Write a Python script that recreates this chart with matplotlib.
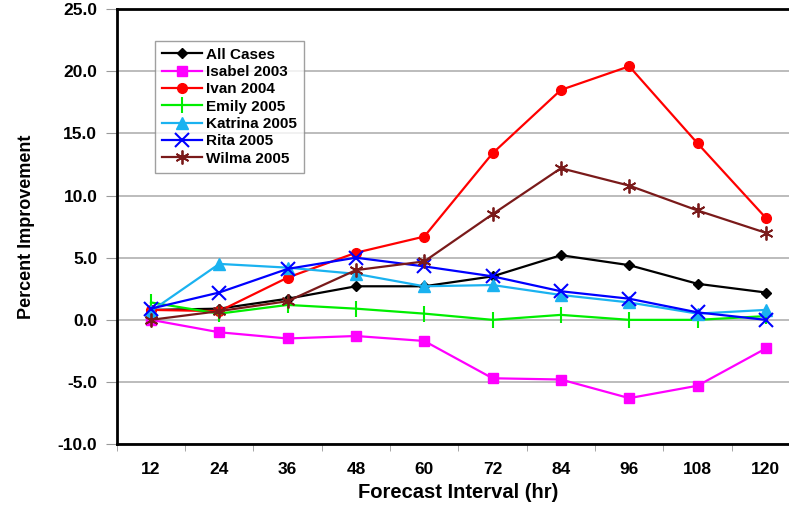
import matplotlib.pyplot as plt

# forecast intervals (hr)
hours = ["12", "24", "36", "48", "60", "72", "84", "96", "108", "120"]

all_cases = [0.8, 0.9, 1.7, 2.7, 2.7, 3.5, 5.2, 4.4, 2.9, 2.2]
isabel = [0.0, -1.0, -1.5, -1.3, -1.7, -4.7, -4.8, -6.3, -5.3, -2.3]
ivan = [0.8, 0.7, 3.4, 5.4, 6.7, 13.4, 18.5, 20.4, 14.2, 8.2]
emily = [1.4, 0.5, 1.2, 0.9, 0.5, 0.0, 0.4, 0.0, 0.0, 0.3]
katrina = [0.7, 4.5, 4.2, 3.7, 2.7, 2.8, 2.0, 1.4, 0.5, 0.8]
rita = [0.9, 2.2, 4.1, 5.0, 4.3, 3.5, 2.3, 1.7, 0.6, 0.0]
wilma = [0.0, 0.7, 1.5, 4.0, 4.7, 8.5, 12.2, 10.8, 8.8, 7.0]

plt.rcParams["font.family"] = ["Liberation Sans", "DejaVu Sans"]

fig = plt.figure(figsize=(7.89, 5.07), dpi=100)
ax = fig.add_axes([0.148, 0.124, 0.866, 0.858])

x = list(range(1, len(hours) + 1))

ax.plot(x, all_cases, color="black", marker="D", markersize=5, lw=1.6, label="All Cases")
ax.plot(x, isabel, color="#ff00ff", marker="s", markersize=7, lw=1.6, label="Isabel 2003")
ax.plot(x, ivan, color="#ff0000", marker="o", markersize=7, lw=1.6, label="Ivan 2004")
ax.plot(x, emily, color="#00ee00", marker="|", markersize=12, mew=1.5, lw=1.6, label="Emily 2005")
ax.plot(x, katrina, color="#1ab2f0", marker="^", markersize=8, lw=1.6, label="Katrina 2005")
ax.plot(x, rita, color="#0000ff", marker="x", markersize=10, mew=1.5, lw=1.6, label="Rita 2005")
ax.plot(x, wilma, color="#7a1a1a", marker=(6, 2, 0), markersize=10, mew=1.3, lw=1.6, label="Wilma 2005")

ax.set_xlim(0.5, len(hours) + 0.5)
ax.set_ylim(-10, 25)
ax.set_yticks(range(-10, 26, 5))
ax.set_yticklabels([f"{v:.1f}" for v in range(-10, 26, 5)], fontsize=12.5, fontweight="bold")
ax.set_xticks(x)
ax.set_xticklabels(hours, fontsize=12.5, fontweight="bold")
ax.set_xticks([i + 0.5 for i in range(0, len(hours) + 1)], minor=True)
ax.tick_params(axis="x", which="major", length=0, pad=13)
ax.tick_params(axis="x", which="minor", length=5, color="#999999")
ax.tick_params(axis="y", length=8, color="#999999", pad=6)

ax.grid(axis="y", color="#b0b0b0", lw=1.2)
ax.set_axisbelow(True)
ax.spines["right"].set_visible(False)
for s in ["left", "bottom", "top"]:
    ax.spines[s].set_linewidth(2)

ax.set_xlabel("Forecast Interval (hr)", fontsize=14.5, fontweight="bold", labelpad=4)
ax.set_ylabel("Percent Improvement", fontsize=13, fontweight="semibold", labelpad=16)

leg = ax.legend(loc="upper left", bbox_to_anchor=(0.045, 0.945), frameon=True,
                fancybox=False, edgecolor="#888888", prop={"weight": "bold", "size": 11},
                handlelength=2.6, labelspacing=0.22, borderpad=0.45, handletextpad=0.3)
leg.get_frame().set_linewidth(1)

fig.savefig("out.png", dpi=100)
